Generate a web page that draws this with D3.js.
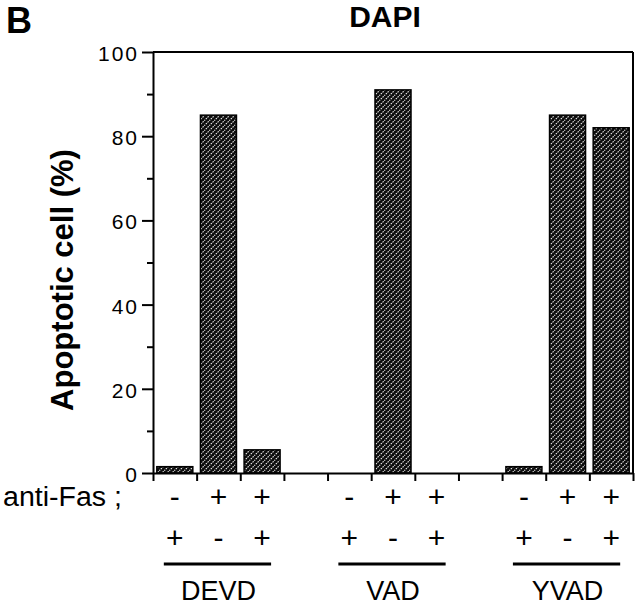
<!DOCTYPE html>
<html>
<head>
<meta charset="utf-8">
<script src="https://cdn.jsdelivr.net/npm/d3@7"></script>
<style>
  html, body { margin: 0; padding: 0; background: #fff; }
  svg { display: block; font-family: "Liberation Sans", Arial, Helvetica, sans-serif; }
</style>
</head>
<body>
<svg id="chart" width="640" height="605"></svg>
<script>
// ---- data ----
const groups = ["DEVD", "VAD", "YVAD"];
const antiFas = ["-", "+", "+"];
const inhibitor = ["+", "-", "+"];
const devdValues = [1.5, 85, 5.5];
const vadValues = [0, 91, 0];
const yvadValues = [1.5, 85, 82];
const yTicksMajor = [0, 20, 40, 60, 80, 100];
const yTicksMinor = [10, 30, 50, 70, 90];
const panelLabel = "B";
const title = "DAPI";
const yLabel = "Apoptotic cell (%)";
const rowLabel = "anti-Fas ;";

const groupValues = [devdValues, vadValues, yvadValues];
const nSlots = 11; // 3 bars + gap + 3 bars + gap + 3 bars
const bars = [];
groupValues.forEach((vals, g) => {
  vals.forEach((v, i) => bars.push({ slot: g * 4 + i, value: v, group: g, idx: i }));
});

// ---- layout ----
const mLeft = 153, mRight = 633, mTop = 52, mBottom = 473;
const svg = d3.select("#chart");

const slotScale = d3.scaleLinear().domain([0, nSlots]).range([mLeft, mRight]);
const x = d3.scaleBand().domain(d3.range(nSlots)).range([mLeft, mRight])
  .paddingInner(0.175).paddingOuter(0.0875);
const y = d3.scaleLinear().domain([0, 100]).range([mBottom, mTop]);

// hatch pattern
const defs = svg.append("defs");
const pat = defs.append("pattern").attr("id", "hatch")
  .attr("patternUnits", "userSpaceOnUse").attr("width", 5).attr("height", 5);
pat.append("rect").attr("width", 5).attr("height", 5).attr("fill", "#0d0d0d");
pat.append("path").attr("d", "M-1,6 L6,-1 M-1,1 L1,-1 M4,6 L6,4")
  .attr("stroke", "#fff").attr("stroke-width", 1.1).attr("stroke-dasharray", "1.6,0.9")
  .attr("opacity", 0.95);

// bars
svg.append("g").selectAll("rect").data(bars.filter(d => d.value > 0)).join("rect")
  .attr("x", d => x(d.slot))
  .attr("y", d => y(d.value))
  .attr("width", x.bandwidth())
  .attr("height", d => y(0) - y(d.value))
  .attr("fill", "url(#hatch)")
  .attr("stroke", "#000").attr("stroke-width", 1.5);

// frame: top and right lines
svg.append("line").attr("x1", mLeft).attr("x2", mRight).attr("y1", mTop).attr("y2", mTop)
  .attr("stroke", "#000").attr("stroke-width", 2);
svg.append("line").attr("x1", mRight).attr("x2", mRight).attr("y1", mTop).attr("y2", mBottom)
  .attr("stroke", "#000").attr("stroke-width", 2);

// y axis major
const yAxisG = svg.append("g").attr("transform", `translate(${mLeft},0)`)
  .call(d3.axisLeft(y).tickValues(yTicksMajor).tickSize(11).tickSizeOuter(0).tickPadding(5));
yAxisG.select(".domain").attr("stroke-width", 2);
yAxisG.selectAll(".tick line").attr("stroke-width", 2);
yAxisG.selectAll(".tick text").attr("font-size", 21).attr("letter-spacing", 2)
  .attr("font-family", "Liberation Sans, Arial, sans-serif").attr("fill", "#000")
  .attr("dy", "0.4em").attr("x", -14);
// y axis minor
const yMinorG = svg.append("g").attr("transform", `translate(${mLeft},0)`)
  .call(d3.axisLeft(y).tickValues(yTicksMinor).tickSize(6).tickFormat(""));
yMinorG.select(".domain").remove();
yMinorG.selectAll(".tick line").attr("stroke-width", 2);

// x axis (slot boundary ticks)
const xAxisG = svg.append("g").attr("transform", `translate(0,${mBottom})`)
  .call(d3.axisBottom(slotScale).tickValues(d3.range(nSlots + 1)).tickSize(8).tickSizeOuter(0).tickFormat(""));
xAxisG.select(".domain").attr("stroke-width", 2);
xAxisG.selectAll(".tick line").attr("stroke-width", 2);

// sign rows
const signs = [];
groups.forEach((g, gi) => {
  antiFas.forEach((s, i) => signs.push({ slot: gi * 4 + i, row: 0, s }));
  inhibitor.forEach((s, i) => signs.push({ slot: gi * 4 + i, row: 1, s }));
});
svg.append("g").selectAll("text").data(signs).join("text")
  .attr("x", d => x(d.slot) + x.bandwidth() / 2)
  .attr("y", d => d.row === 0 ? 507 : 548)
  .attr("text-anchor", "middle")
  .attr("font-size", 30)
  .text(d => d.s);

svg.append("text").attr("x", 3).attr("y", 506).attr("font-size", 27)
  .attr("textLength", 119).attr("lengthAdjust", "spacingAndGlyphs").text(rowLabel);

// group underline + labels
groups.forEach((g, gi) => {
  const x0 = x(gi * 4) + 7, x1 = x(gi * 4 + 2) + x.bandwidth() - 9;
  svg.append("line").attr("x1", x0).attr("x2", x1).attr("y1", 564).attr("y2", 564)
    .attr("stroke", "#000").attr("stroke-width", 3);
  svg.append("text").attr("x", x(gi * 4 + 1) + x.bandwidth() / 2).attr("y", 600)
    .attr("text-anchor", "middle").attr("font-size", 27).text(g);
});

// y label
svg.append("text").attr("transform", `translate(73,280) rotate(-90)`)
  .attr("text-anchor", "middle").attr("font-size", 31).attr("font-weight", "bold")
  .text(yLabel);

// title & panel label
svg.append("text").attr("x", 385).attr("y", 27).attr("text-anchor", "middle")
  .attr("font-size", 30).attr("font-weight", "bold").text(title);
svg.append("text").attr("x", 6).attr("y", 33).attr("font-size", 36).attr("font-weight", "bold")
  .text(panelLabel);
</script>
</body>
</html>
